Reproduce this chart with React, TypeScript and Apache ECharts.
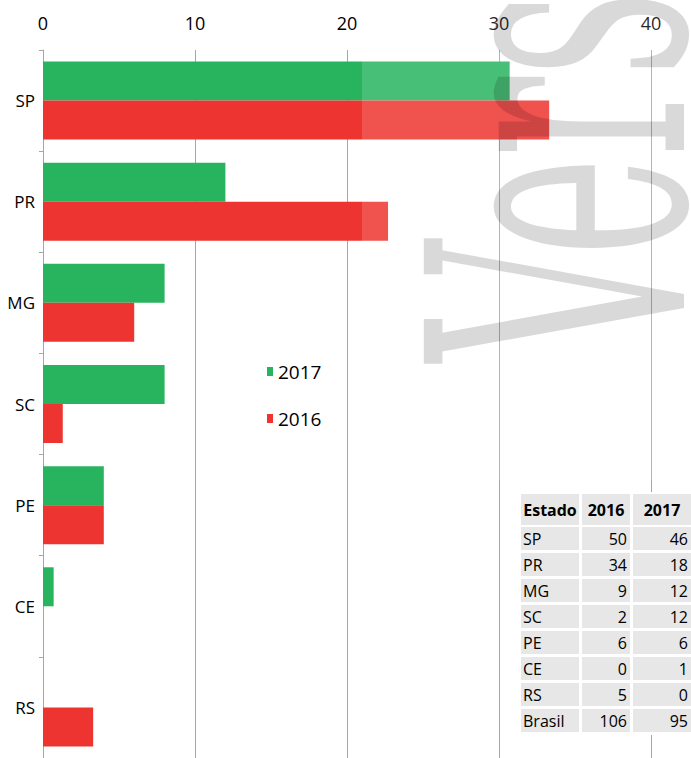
import React, { useEffect, useRef } from 'react';
import * as echarts from 'echarts';

const categories = ['SP', 'PR', 'MG', 'SC', 'PE', 'CE', 'RS'];
const values2017 = [30.7, 12, 8, 8, 4, 0.7, 0];
const values2016 = [33.3, 22.7, 6, 1.3, 4, 0, 3.3];
const seriesNames = ['2017', '2016'];

const tableHeader = ['Estado', '2016', '2017'];
const tableStates = ['SP', 'PR', 'MG', 'SC', 'PE', 'CE', 'RS', 'Brasil'];
const table2016 = [50, 34, 9, 2, 6, 0, 5, 106];
const table2017 = [46, 18, 12, 12, 6, 1, 0, 95];

const GREEN = '#28b45f';
const RED = '#ee3430';
const GRID = '#a6a6a6';
const FONT = 'Open Sans';

function buildTable(): any[] {
  const colX = [521, 582, 633];
  const colW = [58, 48, 58];
  const headerY = 494;
  const headerH = 31;
  const rowY0 = 527;
  const rowPitch = 26;
  const rowH = 23;
  const cellFill = '#e7e7e7';
  const els: any[] = [];
  els.push({
    type: 'rect',
    shape: { x: 518, y: 492, width: 173, height: 243 },
    style: { fill: '#ffffff' },
    z: 110,
  });
  tableHeader.forEach((h, c) => {
    els.push({
      type: 'rect',
      shape: { x: colX[c], y: headerY, width: colW[c], height: headerH },
      style: { fill: cellFill },
      z: 111,
    });
    els.push({
      type: 'text',
      z: 112,
      style: {
        text: h,
        x: colX[c] + colW[c] / 2,
        y: headerY + headerH / 2,
        fill: '#000',
        fontSize: 16,
        fontWeight: 'bold',
        fontFamily: FONT,
        align: 'center',
        verticalAlign: 'middle',
      },
    });
  });
  tableStates.forEach((s, r) => {
    const y = rowY0 + r * rowPitch;
    const vals = [s, String(table2016[r]), String(table2017[r])];
    vals.forEach((v, c) => {
      els.push({
        type: 'rect',
        shape: { x: colX[c], y, width: colW[c], height: rowH },
        style: { fill: cellFill },
        z: 111,
      });
      const left = c === 0;
      els.push({
        type: 'text',
        z: 112,
        style: {
          text: v,
          x: left ? colX[c] + 2 : colX[c] + colW[c] - 3,
          y: y + rowH / 2,
          fill: '#000',
          fontSize: 16,
          fontFamily: FONT,
          align: left ? 'left' : 'right',
          verticalAlign: 'middle',
        },
      });
    });
  });
  return els;
}

export default function App() {
  const ref = useRef<HTMLDivElement>(null);
  useEffect(() => {
    if (!ref.current) return;
    const chart = echarts.init(ref.current, null, { renderer: 'svg' });
    chart.setOption({
      animation: false,
      backgroundColor: '#ffffff',
      grid: { left: 43, top: 50, width: 608, height: 712, containLabel: false },
      legend: {
        data: seriesNames,
        orient: 'vertical',
        left: 267,
        top: 362,
        padding: 0,
        itemWidth: 6,
        itemHeight: 9,
        itemGap: 28,
        icon: 'rect',
        selectedMode: false,
        textStyle: { fontSize: 19, fontFamily: FONT, color: '#000' },
      },
      xAxis: {
        type: 'value',
        position: 'top',
        min: 0,
        max: 40,
        interval: 10,
        axisLine: { show: false },
        axisTick: { show: false },
        axisLabel: { fontSize: 18, fontFamily: FONT, color: '#000', margin: 18 },
        splitLine: { show: true, lineStyle: { color: GRID, width: 1 } },
      },
      yAxis: {
        type: 'category',
        data: categories,
        inverse: true,
        axisLine: { show: true, lineStyle: { color: GRID, width: 1 } },
        axisTick: { show: true, length: 4, lineStyle: { color: GRID } },
        axisLabel: { fontSize: 17, fontFamily: FONT, color: '#000', margin: 8 },
      },
      series: [
        {
          name: seriesNames[0],
          type: 'bar',
          data: values2017,
          barWidth: 39,
          barGap: '0%',
          itemStyle: { color: GREEN },
        },
        {
          name: seriesNames[1],
          type: 'bar',
          data: values2016,
          barWidth: 39,
          barGap: '0%',
          itemStyle: { color: RED },
        },
      ],
      graphic: [
        {
          type: 'rect',
          z: 50,
          shape: { x: 362, y: 0, width: 329, height: 480 },
          style: { fill: 'rgba(255,255,255,0.15)' },
        },
        {
          type: 'text',
          z: 60,
          x: 739,
          y: 362,
          rotation: Math.PI / 2,
          scaleX: 0.47,
          scaleY: 1,
          style: {
            text: 'Versão',
            x: 0,
            y: 0,
            fill: 'rgba(0,0,0,0.15)',
            fontSize: 357,
            fontFamily: 'DejaVu Serif',
            align: 'left',
            verticalAlign: 'bottom',
          },
        },
        ...buildTable(),
      ],
    });
    return () => chart.dispose();
  }, []);
  return (
    <div
      ref={ref}
      style={{ position: 'absolute', left: 0, top: 0, width: 691, height: 758 }}
    />
  );
}
